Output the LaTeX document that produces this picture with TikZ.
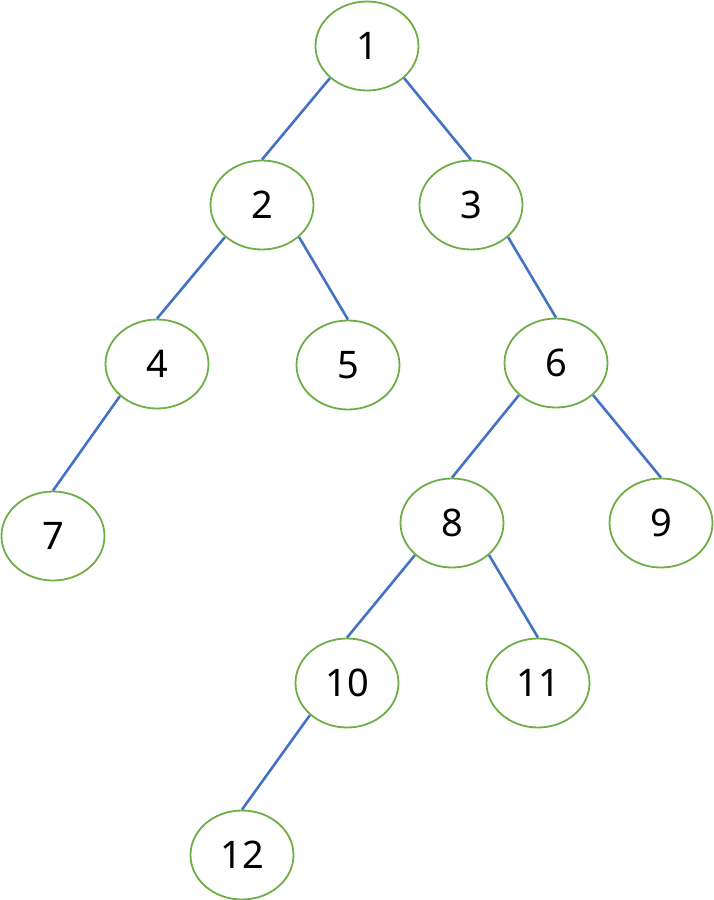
\documentclass[tikz,border=0pt]{standalone}
\usepackage{fontspec}
\setmainfont{Noto Sans}
\definecolor{nodegreen}{HTML}{70AD47}
\definecolor{edgeblue}{HTML}{4472C4}
\usetikzlibrary{shapes.geometric}
\begin{document}
\begin{tikzpicture}[x=1pt,y=-1pt,
  nd/.style={draw=nodegreen,line width=1.8pt,ellipse,minimum width=103pt,minimum height=89pt,inner sep=0pt,font=\fontsize{38}{44}\selectfont},
  ed/.style={draw=edgeblue,line width=2.6pt}]
  \useasboundingbox (0,0) rectangle (714,900);
  \node[nd] (n1) at (367,46){1};
  \node[nd] (n2) at (262,205){2};
  \node[nd] (n3) at (471,205){3};
  \node[nd] (n4) at (157,364){4};
  \node[nd] (n5) at (348,365){5};
  \node[nd] (n6) at (556,363){6};
  \node[nd] (n7) at (53,536){7};
  \node[nd] (n8) at (452,523){8};
  \node[nd] (n9) at (661,523){9};
  \node[nd] (n10) at (347,683){10};
  \node[nd] (n11) at (538,683){11};
  \node[nd] (n12) at (242,855){12};
  \draw[ed] (n1.south west) -- (n2.north);
  \draw[ed] (n1.south east) -- (n3.north);
  \draw[ed] (n2.south west) -- (n4.north);
  \draw[ed] (n2.south east) -- (n5.north);
  \draw[ed] (n3.south east) -- (n6.north);
  \draw[ed] (n4.south west) -- (n7.north);
  \draw[ed] (n6.south west) -- (n8.north);
  \draw[ed] (n6.south east) -- (n9.north);
  \draw[ed] (n8.south west) -- (n10.north);
  \draw[ed] (n8.south east) -- (n11.north);
  \draw[ed] (n10.south west) -- (n12.north);
\end{tikzpicture}
\end{document}
